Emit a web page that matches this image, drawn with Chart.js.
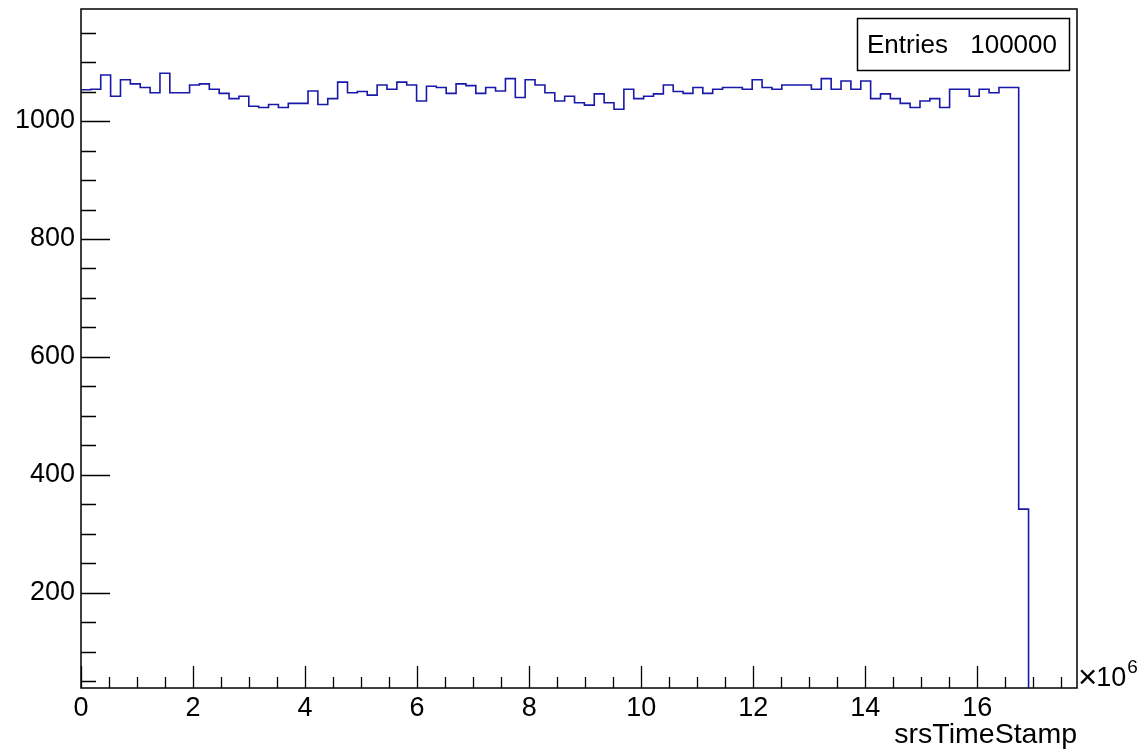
<!DOCTYPE html>
<html><head><meta charset="utf-8">
<script src="https://cdn.jsdelivr.net/npm/chart.js@4.4.1/dist/chart.umd.min.js"></script>
<style>html,body{margin:0;padding:0;background:#fff;overflow:hidden}#wrap{width:1137px;height:749px;position:relative}</style>
</head><body><div id="wrap"><canvas id="c" width="1137" height="749"></canvas></div>
<script>
// histogram bin contents (bins of width binWidth, starting at 0)
const counts = [
 1053,1054,1078,1042,1070,1063,1057,1048,1081,1048,
 1048,1061,1063,1054,1047,1038,1042,1025,1023,1028,
 1023,1030,1030,1051,1028,1038,1066,1048,1050,1044,
 1061,1054,1066,1061,1034,1059,1057,1047,1063,1060,
 1047,1057,1051,1072,1040,1070,1061,1048,1034,1042,
 1031,1027,1046,1031,1020,1054,1038,1042,1046,1061,
 1050,1047,1057,1047,1054,1057,1057,1054,1070,1057,
 1054,1061,1061,1061,1054,1072,1054,1068,1054,1068,
 1038,1046,1038,1030,1023,1034,1038,1023,1054,1054,
 1042,1054,1048,1057,1057,342,0,0,0,0
];
const binWidth = 0.1762;            // in units of 10^6
const xMajorTicks = [0,2,4,6,8,10,12,14,16];
const yMajorTicks = [200,400,600,800,1000];
const xMinorStep = 0.5;
const yMinorStep = 50;
const xRange = [0, 17.78];
const yRange = [38.6, 1190];
const xTitle = 'srsTimeStamp';
const xExponentTimes = '\u00d7';
const xExponentBase = '10';
const xExponent = '6';
const statLabel = 'Entries';
const statValue = '100000';

const FONT = "'Liberation Sans', Arial, Helvetica, sans-serif";
const points = counts.map((c, i) => ({x: i * binWidth, y: c}));
points.push({x: counts.length * binWidth, y: 0});

const rootDecor = {
  id: 'rootDecor',
  afterDatasetsDraw(chart) {
    const ctx = chart.ctx, a = chart.chartArea;
    const xs = chart.scales.x, ys = chart.scales.y;
    ctx.save();
    // frame
    ctx.strokeStyle = '#000';
    ctx.lineWidth = 1.5;
    ctx.strokeRect(a.left, a.top, a.right - a.left, a.bottom - a.top);
    // ticks
    ctx.lineWidth = 1.3;
    ctx.beginPath();
    for (let v = xRange[0]; v <= xRange[1] + 1e-9; v += xMinorStep) {
      const px = Math.round(xs.getPixelForValue(v)) + 0.5;
      const major = xMajorTicks.some(t => Math.abs(t - v) < 1e-6);
      const len = major ? 22 : 11;
      ctx.moveTo(px, a.bottom); ctx.lineTo(px, a.bottom - len);
    }
    const y0 = Math.ceil(yRange[0] / yMinorStep) * yMinorStep;
    for (let v = y0; v <= yRange[1]; v += yMinorStep) {
      const py = Math.round(ys.getPixelForValue(v)) + 0.5;
      const major = v % 200 === 0;
      const len = major ? 29 : 15;
      ctx.moveTo(a.left, py); ctx.lineTo(a.left + len, py);
    }
    ctx.stroke();
    // axis title
    ctx.fillStyle = '#000';
    ctx.font = '28.5px ' + FONT;
    ctx.textAlign = 'right';
    ctx.textBaseline = 'alphabetic';
    ctx.fillText(xTitle, a.right, 743);
    // exponent
    ctx.textAlign = 'left';
    ctx.font = '33px ' + FONT;
    let ex = a.right + 1;
    ctx.fillText(xExponentTimes, ex, 688);
    ex += ctx.measureText(xExponentTimes).width - 1;
    ctx.font = '27px ' + FONT;
    ctx.fillText(xExponentBase, ex, 686);
    ex += ctx.measureText(xExponentBase).width + 1;
    ctx.font = '19px ' + FONT;
    ctx.fillText(xExponent, ex, 673);
    // stats box
    const bx = 857.5, by = 18.5, bw = 212, bh = 52;
    ctx.fillStyle = '#fff';
    ctx.fillRect(bx, by, bw, bh);
    ctx.strokeStyle = '#000';
    ctx.lineWidth = 1.5;
    ctx.strokeRect(bx, by, bw, bh);
    ctx.fillStyle = '#000';
    ctx.font = '26px ' + FONT;
    ctx.textBaseline = 'alphabetic';
    ctx.textAlign = 'left';
    ctx.fillText(statLabel, 867, 53);
    ctx.textAlign = 'right';
    ctx.fillText(statValue, 1057, 53);
    ctx.restore();
  }
};

new Chart(document.getElementById('c'), {
  type: 'line',
  data: { datasets: [{
    data: points, stepped: true, borderColor: '#1818aa', borderWidth: 1.6,
    pointRadius: 0, fill: false, clip: 0, tension: 0
  }]},
  options: {
    responsive: false, animation: false, devicePixelRatio: 1,
    layout: { padding: { top: 9, right: 60, left: 0, bottom: 0 } },
    plugins: { legend: { display: false }, tooltip: { enabled: false } },
    scales: {
      x: {
        type: 'linear', min: xRange[0], max: xRange[1],
        grid: { display: false, drawTicks: false }, border: { display: false },
        ticks: { color: '#000', font: { family: FONT, size: 27 }, padding: 4, maxRotation: 0, autoSkip: false,
                 callback: v => String(v) },
        afterBuildTicks: s => { s.ticks = xMajorTicks.map(v => ({ value: v })); },
        afterFit: s => { s.height = 61; s.paddingLeft = 0; s.paddingRight = 0; }
      },
      y: {
        type: 'linear', min: yRange[0], max: yRange[1],
        grid: { display: false, drawTicks: false }, border: { display: false },
        ticks: { color: '#000', font: { family: FONT, size: 27 }, padding: 6, autoSkip: false,
                 callback: v => String(v) },
        afterBuildTicks: s => { s.ticks = yMajorTicks.map(v => ({ value: v })); },
        afterFit: s => { s.width = 81; s.paddingTop = 0; s.paddingBottom = 0; }
      }
    }
  },
  plugins: [rootDecor]
});
</script></body></html>
